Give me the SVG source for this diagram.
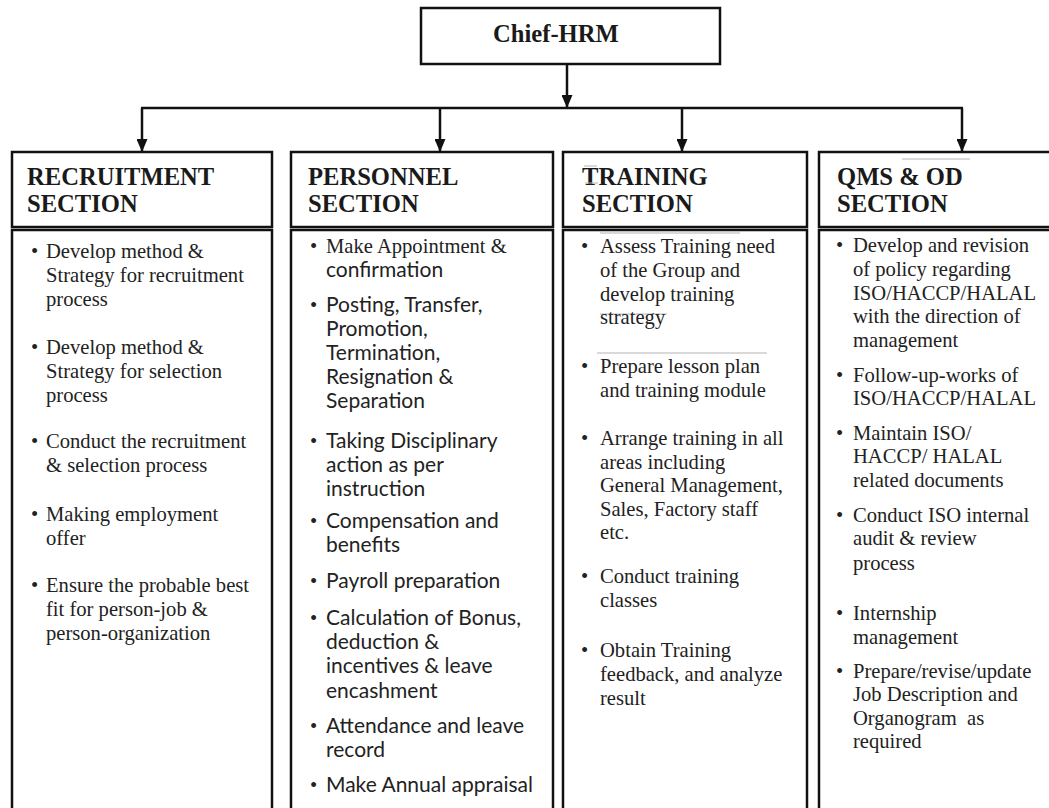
<svg xmlns="http://www.w3.org/2000/svg" width="1049" height="808" viewBox="0 0 1049 808">
  <style>
    .box{fill:#fff;stroke:#111;stroke-width:2.5}
    .wire{fill:none;stroke:#111;stroke-width:2.5}
    .mark{fill:none;stroke:#b4b4b4;stroke-width:1}
    .hd{font-family:"Liberation Serif","Times New Roman",serif;font-weight:bold;font-size:24.6px;fill:#1a1a1a}
    .tx{font-family:"Liberation Serif","Times New Roman",serif;font-size:20.6px;fill:#222}
    .sx{font-family:Lato,"Open Sans",sans-serif;font-size:21px;fill:#222}
  </style>
  <defs>
    <marker id="ah" markerUnits="userSpaceOnUse" markerWidth="13" markerHeight="11" refX="13" refY="5.5" orient="auto">
      <path d="M0,0 L13,5.5 L0,11 z" fill="#111"/>
    </marker>
  </defs>
  <rect width="1049" height="808" fill="#fff"/>

  <!-- Connectors -->
  <g id="connectors">
    <path class="wire" d="M567,64 V108" marker-end="url(#ah)"/>
    <path class="wire" d="M141,108 H963"/>
    <path class="wire" d="M142,108 V152" marker-end="url(#ah)"/>
    <path class="wire" d="M440,108 V152" marker-end="url(#ah)"/>
    <path class="wire" d="M682,108 V152" marker-end="url(#ah)"/>
    <path class="wire" d="M962,108 V152" marker-end="url(#ah)"/>
  </g>

  <!-- Head of HR -->
  <g id="chief-hrm">
    <rect class="box" x="421" y="8" width="299" height="56"/>
    <text class="hd" x="493" y="42">Chief-HRM</text>
  </g>

  <!-- Recruitment -->
  <g id="recruitment">
    <rect class="box" x="12" y="152" width="260" height="75"/>
    <text class="hd" x="27" y="185">RECRUITMENT</text>
    <text class="hd" x="27" y="212">SECTION</text>
    <rect class="box" x="12" y="230" width="260" height="600"/>
    <g class="tx">
      <text x="31" y="258">•</text>
      <text x="46" y="258">Develop method &amp;</text>
      <text x="46" y="282">Strategy for recruitment</text>
      <text x="46" y="306">process</text>
      <text x="31" y="354">•</text>
      <text x="46" y="354">Develop method &amp;</text>
      <text x="46" y="378">Strategy for selection</text>
      <text x="46" y="402">process</text>
      <text x="31" y="448">•</text>
      <text x="46" y="448">Conduct the recruitment</text>
      <text x="46" y="472">&amp; selection process</text>
      <text x="31" y="521">•</text>
      <text x="46" y="521">Making employment</text>
      <text x="46" y="545">offer</text>
      <text x="31" y="592">•</text>
      <text x="46" y="592">Ensure the probable best</text>
      <text x="46" y="616">fit for person-job &amp;</text>
      <text x="46" y="640">person-organization</text>
    </g>
  </g>

  <!-- Personnel -->
  <g id="personnel">
    <rect class="box" x="291" y="152" width="262" height="75"/>
    <text class="hd" x="308" y="185">PERSONNEL</text>
    <text class="hd" x="308" y="212">SECTION</text>
    <rect class="box" x="291" y="230" width="262" height="600"/>
    <g class="tx">
      <text x="310" y="253">•</text>
      <text x="326" y="253">Make Appointment &amp;</text>
      <text x="310" y="312">•</text>
      <text x="310" y="448">•</text>
      <text x="310" y="528">•</text>
      <text x="310" y="588">•</text>
      <text x="310" y="625">•</text>
      <text x="310" y="733">•</text>
      <text x="310" y="792">•</text>
    </g>
    <g class="sx">
      <text x="326" y="277">confirmation</text>
      <text x="326" y="312">Posting, Transfer,</text>
      <text x="326" y="336">Promotion,</text>
      <text x="326" y="360">Termination,</text>
      <text x="326" y="384">Resignation &amp;</text>
      <text x="326" y="408">Separation</text>
      <text x="326" y="448">Taking Disciplinary</text>
      <text x="326" y="472">action as per</text>
      <text x="326" y="496">instruction</text>
      <text x="326" y="528">Compensation and</text>
      <text x="326" y="552">benefits</text>
      <text x="326" y="588">Payroll preparation</text>
      <text x="326" y="625">Calculation of Bonus,</text>
      <text x="326" y="649">deduction &amp;</text>
      <text x="326" y="673">incentives &amp; leave</text>
      <text x="326" y="698">encashment</text>
      <text x="326" y="733">Attendance and leave</text>
      <text x="326" y="757">record</text>
      <text x="326" y="792">Make Annual appraisal</text>
    </g>
  </g>

  <!-- Training -->
  <g id="training">
    <rect class="box" x="563" y="152" width="244" height="75"/>
    <text class="hd" x="582" y="185">TRAINING</text>
    <text class="hd" x="582" y="212">SECTION</text>
    <rect class="box" x="563" y="230" width="244" height="600"/>
    <path class="mark" d="M584,166 H597 M585,183 H598 M600,233 H740 M600,314 H667 M597,353 H767"/>
    <g class="tx">
      <text x="581" y="253">•</text>
      <text x="600" y="253">Assess Training need</text>
      <text x="600" y="277">of the Group and</text>
      <text x="600" y="301">develop training</text>
      <text x="600" y="324">strategy</text>
      <text x="581" y="373">•</text>
      <text x="600" y="373">Prepare lesson plan</text>
      <text x="600" y="397">and training module</text>
      <text x="581" y="445">•</text>
      <text x="600" y="445">Arrange training in all</text>
      <text x="600" y="469">areas including</text>
      <text x="600" y="492">General Management,</text>
      <text x="600" y="516">Sales, Factory staff</text>
      <text x="600" y="539">etc.</text>
      <text x="581" y="583">•</text>
      <text x="600" y="583">Conduct training</text>
      <text x="600" y="607">classes</text>
      <text x="581" y="657">•</text>
      <text x="600" y="657">Obtain Training</text>
      <text x="600" y="681">feedback, and analyze</text>
      <text x="600" y="705">result</text>
    </g>
  </g>

  <!-- QMS & OD -->
  <g id="qms-od">
    <rect class="box" x="819" y="152" width="240" height="75"/>
    <text class="hd" x="837" y="185">QMS &amp; OD</text>
    <text class="hd" x="837" y="212">SECTION</text>
    <rect class="box" x="819" y="230" width="240" height="600"/>
    <path class="mark" d="M902,159 H970"/>
    <g class="tx">
      <text x="836" y="252">•</text>
      <text x="853" y="252">Develop and revision</text>
      <text x="853" y="276">of policy regarding</text>
      <text x="853" y="300">ISO/HACCP/HALAL</text>
      <text x="853" y="323">with the direction of</text>
      <text x="853" y="347">management</text>
      <text x="836" y="382">•</text>
      <text x="853" y="382">Follow-up-works of</text>
      <text x="853" y="405">ISO/HACCP/HALAL</text>
      <text x="836" y="440">•</text>
      <text x="853" y="440">Maintain ISO/</text>
      <text x="853" y="463">HACCP/ HALAL</text>
      <text x="853" y="487">related documents</text>
      <text x="836" y="522">•</text>
      <text x="853" y="522">Conduct ISO internal</text>
      <text x="853" y="545">audit &amp; review</text>
      <text x="853" y="570">process</text>
      <text x="836" y="620">•</text>
      <text x="853" y="620">Internship</text>
      <text x="853" y="644">management</text>
      <text x="836" y="678">•</text>
      <text x="853" y="678">Prepare/revise/update</text>
      <text x="853" y="701">Job Description and</text>
      <text x="853" y="725">Organogram &#160;as</text>
      <text x="853" y="748">required</text>
    </g>
  </g>
</svg>
